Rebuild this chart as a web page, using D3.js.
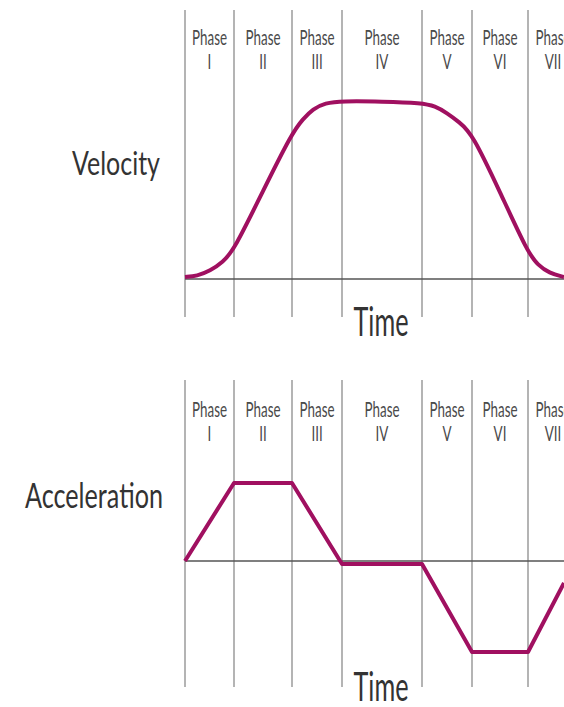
<!DOCTYPE html>
<html>
<head>
<meta charset="utf-8">
<script src="https://cdn.jsdelivr.net/npm/d3@7"></script>
<style>
  html, body { margin: 0; padding: 0; background: #fff; }
  svg { display: block; }
</style>
</head>
<body>
<svg id="chart" width="564" height="707"></svg>
<script>
// Motion profile: velocity and acceleration over seven phases
const phases = ['I', 'II', 'III', 'IV', 'V', 'VI', 'VII'];
const phaseStarts = [0, 49, 107, 157, 237, 287, 343];
const timeEnd = 379;
const lastPhaseEnd = 393;

// velocity (time, value)
const velocityT = [0, 12, 25, 38, 49, 78, 107, 118, 128, 140, 157, 197, 237, 250, 262, 274, 287, 315, 343, 353, 364, 379];
const velocityV = [2, 3, 8, 17, 29, 88, 146, 160, 170, 176, 178, 177.5, 176, 173, 166, 157, 146, 87, 26, 14, 6, 2];

// acceleration corners (time, value)
const accelT = [0, 49, 107, 157, 237, 287, 343, 379];
const accelV = [0, 78, 78, -3, -3, -91, -91, -22];

const svg = d3.select('#chart');
const curveColor = '#a01060';
const gridColor = '#8c8c8c';
const textColor = '#333';

const x = d3.scaleLinear().domain([0, timeEnd]).range([185, 564]);

function squeeze(sel, width) {
    sel.attr('textLength', width).attr('lengthAdjust', 'spacingAndGlyphs');
}

function panel(opts) {
    const g = svg.append('g');

    // phase dividers
    g.selectAll('.divider')
        .data(phaseStarts)
        .enter().append('line')
        .attr('x1', d => x(d)).attr('x2', d => x(d))
        .attr('y1', opts.lineTop).attr('y2', opts.lineBottom)
        .attr('stroke', gridColor)
        .attr('stroke-width', 1.3);

    // baseline
    g.append('line')
        .attr('x1', x(0)).attr('x2', x(timeEnd))
        .attr('y1', opts.y(0)).attr('y2', opts.y(0))
        .attr('stroke', '#555')
        .attr('stroke-width', 1.6);

    // phase labels
    const centers = phaseStarts.map((s, i) => {
        const e = i < phaseStarts.length - 1 ? phaseStarts[i + 1] : lastPhaseEnd;
        return x((s + e) / 2);
    });
    // measure "Phase" to get a horizontal squeeze factor
    const probe = g.append('text')
        .attr('font-family', 'Lato, sans-serif')
        .attr('font-size', 21)
        .text('Phase');
    const sx = 35 / probe.node().getComputedTextLength();
    probe.remove();

    phases.forEach((p, i) => {
        const lg = g.append('g')
            .attr('transform', `translate(${centers[i]},0) scale(${sx},1)`);
        lg.append('text')
            .attr('y', opts.labelTop)
            .attr('text-anchor', 'middle')
            .attr('font-family', 'Lato, sans-serif')
            .attr('font-size', 21)
            .attr('fill', '#4a4a4a')
            .text('Phase');
        lg.append('text')
            .attr('y', opts.labelTop + 24)
            .attr('text-anchor', 'middle')
            .attr('font-family', 'Lato, sans-serif')
            .attr('font-size', 21)
            .attr('fill', '#4a4a4a')
            .text(p);
    });

    // curve
    g.append('path')
        .datum(opts.t.map((t, i) => [t, opts.v[i]]))
        .attr('fill', 'none')
        .attr('stroke', curveColor)
        .attr('stroke-width', 4)
        .attr('stroke-linejoin', 'round')
        .attr('d', d3.line()
            .x(d => x(d[0]))
            .y(d => opts.y(d[1]))
            .curve(opts.curve));

    // axis titles
    g.append('text')
        .attr('x', 381)
        .attr('y', opts.timeY)
        .attr('text-anchor', 'middle')
        .attr('font-family', 'Lato, sans-serif')
        .attr('font-size', 40)
        .attr('fill', textColor)
        .text('Time')
        .call(squeeze, 55);

    g.append('text')
        .attr('x', opts.titleX)
        .attr('y', opts.titleY)
        .attr('text-anchor', 'middle')
        .attr('font-family', 'Lato, sans-serif')
        .attr('font-size', opts.titleSize)
        .attr('fill', textColor)
        .text(opts.title)
        .call(squeeze, opts.titleW);
}

panel({
    y: d3.scaleLinear().domain([0, 178]).range([279, 101]),
    t: velocityT, v: velocityV,
    curve: d3.curveBasis,
    lineTop: 10, lineBottom: 317,
    labelTop: 45,
    timeY: 336,
    title: 'Velocity', titleX: 116, titleY: 175, titleSize: 32, titleW: 88
});

panel({
    y: d3.scaleLinear().domain([-91, 78]).range([652, 483]),
    t: accelT, v: accelV,
    curve: d3.curveLinear,
    lineTop: 380, lineBottom: 687,
    labelTop: 417,
    timeY: 701,
    title: 'Acceleration', titleX: 94, titleY: 508, titleSize: 34, titleW: 138
});
</script>
</body>
</html>
